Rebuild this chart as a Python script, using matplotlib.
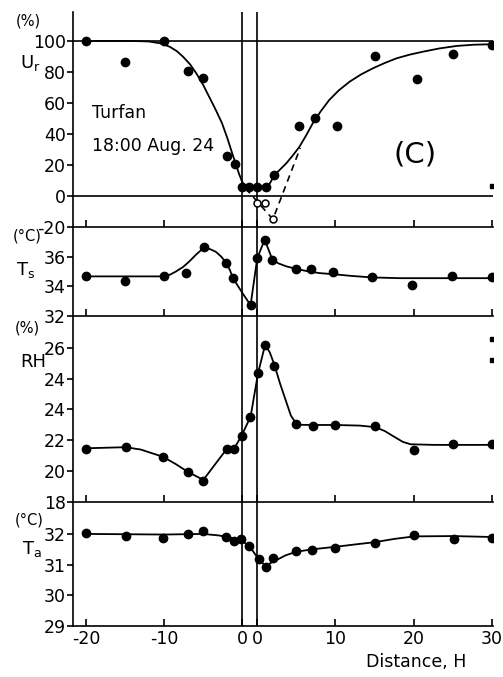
import numpy as np
import matplotlib.pyplot as plt

# horizontal axis: upwind side drawn left of 0, oasis between the two "0" lines,
# downwind distances shifted right by the oasis width
OASIS_W = 1.9
xtick_pos = [-20, -10, 0, OASIS_W, 10 + OASIS_W, 20 + OASIS_W, 30 + OASIS_W]
xtick_lab = ['-20', '-10', '0', '0', '10', '20', '30']

# Ur (%) - observed points, open points, fitted curve, dashed curve
ur_x = [-20, -15, -10, -7, -5, -2, -1, 0, 0.85, 1.9, 3.0, 4.1, 7.2, 9.3, 12.1, 16.9, 22.3, 26.9, 31.9]
ur_y = [100, 86.5, 100, 80.4, 76.3, 26, 20.5, 6, 6, 6, 6, 13.5, 45.2, 50.1, 45.2, 90.3, 75.7, 91.6, 97.4]
ur_open_x = [1.9, 2.9, 3.9]
ur_open_y = [-4.7, -4.3, -15]
ur_dash_x = [0.4, 3.9, 7.4]
ur_dash_y = [5, -15, 31]
ur_fit_x = [-20, -14, -12, -10.5, -9.3, -8.4, -7.6, -6.7, -5.9, -5.0, -4.25, -3.4, -2.6, -1.9,
            -1.3, -0.8, -0.45, -0.1, 0.2, 0.6, 2.0, 3.0, 3.4, 4.1, 4.8, 5.6, 6.5, 7.3, 8.2,
            9.0, 10.0, 11.1, 12.3, 13.7, 15.2, 16.7, 18.2, 19.7, 21.4, 23.1, 25.2, 27.4, 29.6, 31.9]
ur_fit_y = [100, 100, 99.7, 98.5, 96.3, 93.5, 89.9, 85, 79.2, 71.5, 64, 55.5, 46.9, 37,
            27.5, 20, 14.6, 10, 7.1, 6, 6, 6, 7.1, 13.5, 17, 21, 26.5, 31.8, 39.5,
            46.9, 54.5, 61.9, 68, 73.7, 78.5, 82.4, 85.8, 88.8, 91.2, 93.1, 95.2, 96.8, 97.6, 97.9]

# Ts (deg C)
ts_x = [-20, -15, -10, -7.2, -4.9, -2.1, -1.2, 1.05, 1.9, 2.85, 3.85, 6.85, 8.8, 11.6, 16.6, 21.7, 26.8, 31.9]
ts_y = [34.73, 34.33, 34.67, 34.89, 36.62, 35.6, 34.55, 32.73, 35.9, 37.15, 35.78, 35.18, 35.2, 34.95, 34.6, 34.11, 34.67, 34.6]
ts_fit_x = [-20, -10, -9.2, -8.5, -7.6, -6.8, -5.9, -4.9, -4.1, -3.4, -2.7, -2.1, -1.6, -1.2, 0.0,
            1.05, 1.9, 2.85, 3.85, 4.6, 5.6, 6.85, 8.5, 9.9, 11.6, 14, 16.6, 20.2, 31.9]
ts_fit_y = [34.67, 34.67, 34.8, 35.0, 35.3, 35.67, 36.15, 36.62, 36.5, 36.33, 36.0, 35.6, 35.1, 34.55, 33.55,
            32.73, 35.9, 37.15, 35.78, 35.55, 35.35, 35.18, 35.0, 34.89, 34.82, 34.7, 34.6, 34.55, 34.55]

# RH (%) - tick labels as printed on the original
rh_x = [-20, -14.9, -10.1, -7.0, -5.0, -2.0, -1.04, -0.1, 0.96, 2.05, 2.9, 4.1, 6.8, 9.0, 11.8, 17.0, 22.0, 26.9, 31.9]
rh_y = [21.42, 21.58, 20.94, 19.92, 19.38, 21.42, 21.42, 22.3, 23.49, 26.34, 28.17, 26.83, 23.04, 22.95, 22.99, 22.95, 21.37, 21.76, 21.76]
rh_fit_x = [-20, -15, -13, -11.5, -10.2, -8.5, -7.0, -5.0, -2.1, -1.1, -0.1, 1.05, 2.0, 2.9, 3.5, 4.1,
            4.8, 5.6, 6.2, 6.85, 7.5, 9.0, 11.8, 15, 17.0, 18.2, 19.4, 20.5, 21.5, 24.5, 31.9]
rh_fit_y = [21.48, 21.55, 21.4, 21.15, 20.94, 20.45, 19.96, 19.43, 21.37, 21.42, 22.3, 23.53, 26.34, 28.17, 27.7, 26.88,
            25.7, 24.5, 23.6, 23.1, 23.0, 22.99, 22.99, 22.95, 22.85, 22.6, 22.23, 21.9, 21.74, 21.7, 21.7]
rh_ticks = [18, 20, 22, 24, 26, 28]
rh_ticklab = ['18', '20', '22', '24', '24', '26']

# Ta (deg C)
ta_x = [-20, -14.9, -10.1, -7.0, -5.0, -2.1, -1.04, -0.15, 0.9, 2.1, 3.0, 3.9, 6.9, 8.9, 11.9, 16.9, 22.0, 27.0, 31.9]
ta_y = [32.03, 31.94, 31.88, 32.01, 32.08, 31.9, 31.76, 31.85, 31.6, 31.17, 30.92, 31.2, 31.44, 31.47, 31.55, 31.7, 31.95, 31.82, 31.88]
ta_fit_x = [-20, -10, -5, -3, -1.0, -0.15, 0.9, 2.1, 3.0, 3.6, 4.3, 5.5, 6.9, 9, 11.9, 14.5, 16.9, 19.5, 22.0, 27.0, 31.9]
ta_fit_y = [32.0, 31.98, 32.0, 31.95, 31.85, 31.79, 31.6, 31.17, 30.95, 31.05, 31.14, 31.3, 31.42, 31.5, 31.58, 31.66, 31.73, 31.84, 31.92, 31.93, 31.9]

# stray marks at the right edge of the original
mark_ur = [(31.9, 6.5)]
mark_rh = [(31.9, 28.56), (31.9, 27.2)]

plt.rcParams['font.family'] = ['DejaVu Sans']
plt.rcParams['axes.linewidth'] = 1.2

W, H = 503, 677
fig = plt.figure(figsize=(W / 100, H / 100), dpi=100)

def px_axes(top, bottom):
    # axes from pixel rows, same horizontal extent for every panel
    left, right = 72.7, 493.4
    return fig.add_axes([left / W, 1 - bottom / H, (right - left) / W, (bottom - top) / H])

def setup(ax, ylim, yticks, ylabels):
    ax.set_xlim(-21.7, 32.1)
    ax.set_ylim(*ylim)
    ax.spines['top'].set_visible(False)
    ax.spines['right'].set_visible(False)
    ax.set_xticks(xtick_pos)
    ax.tick_params(axis='x', direction='in', length=5, width=1.2, labelbottom=False)
    ax.set_yticks(yticks)
    ax.set_yticklabels(ylabels)
    ax.tick_params(axis='y', direction='out', length=4, width=1.2, pad=1, labelsize=12.5)
    ax.patch.set_alpha(0)
    for xv in [0, OASIS_W]:
        ax.axvline(xv, color='k', lw=1.2)

dot = dict(ls='none', marker='o', ms=6, color='k')
fit = dict(color='k', lw=1.3)

ax1 = px_axes(12, 227)
setup(ax1, (-20, 118.7), [-20, 0, 20, 40, 60, 80, 100], ['-20', '0', '20', '40', '60', '80', '100'])
ax1.axhline(100, color='k', lw=1.2)
ax1.axhline(0, color='k', lw=1.2)
ax1.plot(ur_fit_x, ur_fit_y, **fit)
ax1.plot(ur_dash_x, ur_dash_y, color='k', lw=1.2, ls=(0, (4, 3)))
ax1.plot(ur_x, ur_y, **dot)
ax1.plot(ur_open_x, ur_open_y, ls='none', marker='o', ms=5, mfc='white', mec='k', mew=1.1)
ax1.plot(*zip(*mark_ur), ls='none', marker='s', ms=2.5, color='k')

ax2 = px_axes(227, 316)
setup(ax2, (32, 38), [32, 34, 36], ['32', '34', '36'])
ax2.plot(ts_fit_x, ts_fit_y, **fit)
ax2.plot(ts_x, ts_y, **dot)

ax3 = px_axes(316, 502)
setup(ax3, (18, 30.05), rh_ticks, rh_ticklab)
ax3.plot(rh_fit_x, rh_fit_y, **fit)
ax3.plot(rh_x, rh_y, **dot)
ax3.plot(*zip(*mark_rh), ls='none', marker='s', ms=2.5, color='k')

ax4 = px_axes(502, 626)
setup(ax4, (29, 33.04), [29, 30, 31, 32], ['29', '30', '31', '32'])
ax4.plot(ta_fit_x, ta_fit_y, **fit)
ax4.plot(ta_x, ta_y, **dot)
ax4.set_xticklabels(xtick_lab)
ax4.tick_params(axis='x', labelbottom=True, labelsize=12.5, pad=3)

def ftext(x, y, s, **kw):
    fig.text(x / W, 1 - y / H, s, **kw)

# units and variable names
ftext(28, 21, '(%)', ha='center', va='center', fontsize=10.5)
ftext(30, 63, 'U$_\\mathrm{r}$', ha='center', va='center', fontsize=13)
ftext(27, 236, '(°C)', ha='center', va='center', fontsize=10.5)
ftext(26, 270, 'T$_\\mathrm{s}$', ha='center', va='center', fontsize=13)
ftext(27, 328, '(%)', ha='center', va='center', fontsize=10.5)
ftext(33, 362, 'RH', ha='center', va='center', fontsize=13)
ftext(29, 520, '(°C)', ha='center', va='center', fontsize=10.5)
ftext(32, 549, 'T$_\\mathrm{a}$', ha='center', va='center', fontsize=13)

# annotations
ftext(92, 113, 'Turfan', ha='left', va='center', fontsize=12.5)
ftext(92, 146, '18:00 Aug. 24', ha='left', va='center', fontsize=12.5)
ftext(415, 154, '(C)', ha='center', va='center', fontsize=21)
ftext(466, 662, 'Distance, H', ha='right', va='center', fontsize=12.5)

plt.savefig('out.png', dpi=100)
